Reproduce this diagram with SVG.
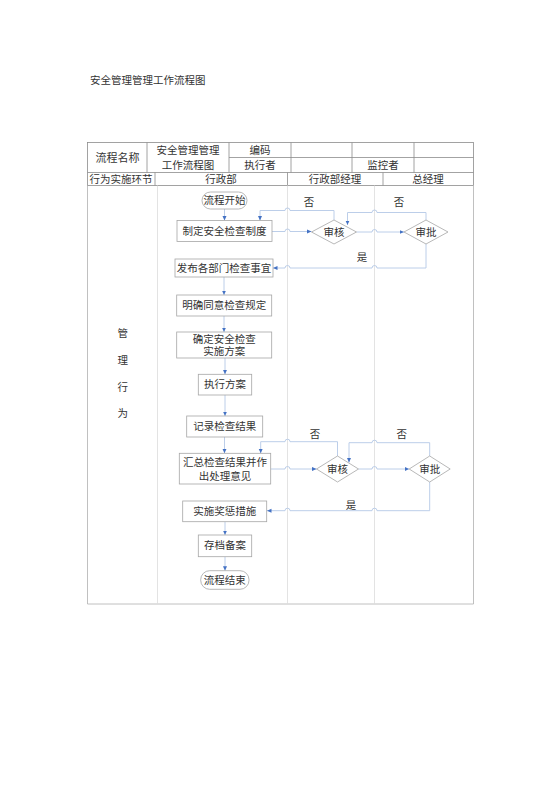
<svg xmlns="http://www.w3.org/2000/svg" width="560" height="792" viewBox="0 0 560 792">
<style>
text{font-family:"Liberation Serif","Noto Sans CJK SC",serif;font-size:10.5px;fill:#333;text-anchor:middle;dominant-baseline:central}
.tl{fill:none;stroke:#8c8c8c;stroke-width:0.8}
.ln{fill:none;stroke:#dcdcdc;stroke-width:0.8}
.bx{fill:#fff;stroke:#a6a6a6;stroke-width:0.8}
.c{fill:none;stroke:#b4c8e6;stroke-width:0.9}
.a{marker-end:url(#ah)}
</style>
<defs>
<marker id="ah" viewBox="0 0 10 10" refX="10" refY="5" markerWidth="4.5" markerHeight="4.5" orient="auto" markerUnits="userSpaceOnUse"><path d="M0,0.5 L10,5 L0,9.5 z" fill="#4472c4"/></marker>
</defs>
<rect width="560" height="792" fill="#fff"/>
<text x="90" y="80" style="text-anchor:start">安全管理管理工作流程图</text>

<g id="table">
<rect class="tl" x="87.5" y="142.5" width="386" height="43"/>
<path class="tl" d="M229,157.5 H473.5 M87.5,172.5 H473.5 M147,142.5 V172.5 M229,142.5 V172.5 M291,142.5 V172.5 M352,142.5 V172.5 M414,142.5 V172.5 M155,172.5 V185.5 M287.5,172.5 V185.5 M383,172.5 V185.5"/>
<path class="tl" style="stroke:#b0b0b0" d="M87.5,185.5 V604 H473.5 V185.5"/>
<path class="ln" d="M157.5,185.5 V604 M287.5,185.5 V604 M374.5,185.5 V604"/>
<text x="117.5" y="157.5" style="font-size:11px">流程名称</text>
<text x="188" y="150">安全管理管理</text>
<text x="188" y="165">工作流程图</text>
<text x="260" y="150">编码</text>
<text x="260" y="165">执行者</text>
<text x="383" y="165">监控者</text>
<text x="121" y="179">行为实施环节</text>
<text x="221" y="179">行政部</text>
<text x="335" y="179">行政部经理</text>
<text x="428" y="179">总经理</text>
<text x="122.7" y="333">管</text>
<text x="122.7" y="360.5">理</text>
<text x="122.7" y="387">行</text>
<text x="122.7" y="413">为</text>
</g>

<g id="connectors">
<path class="c a" d="M224.5,209 V220.5"/>
<path class="c a" d="M272,231.5 H285 A2.5,2.5 0 0 1 290,231.5 H311.5"/>
<path class="c a" d="M334,220 V210.5 H290 A2.5,2.5 0 0 0 285,210.5 H260 V220.5"/>
<path class="c a" d="M356.5,232 H372 A2.5,2.5 0 0 1 377,232 H404"/>
<path class="c a" d="M426,220 V212.5 H377 A2.5,2.5 0 0 0 372,212.5 H347.5 V225"/>
<path class="c a" d="M426,244 V268 H377 A2.5,2.5 0 0 0 372,268 H290 A2.5,2.5 0 0 0 285,268 H273"/>
<path class="c a" d="M224,277 V295"/>
<path class="c a" d="M224,316 V332"/>
<path class="c a" d="M225,358 V374.3"/>
<path class="c a" d="M225,395 V416"/>
<path class="c a" d="M224.5,437 V453.3"/>
<path class="c a" d="M270.7,469 H285 A2.5,2.5 0 0 1 290,469 H316.5"/>
<path class="c a" d="M337.5,456 V441.7 H290 A2.5,2.5 0 0 0 285,441.7 H260.7 V453.3"/>
<path class="c a" d="M358.5,469 H372 A2.5,2.5 0 0 1 377,469 H409.2"/>
<path class="c a" d="M429.7,456 V442.7 H377 A2.5,2.5 0 0 0 372,442.7 H349 V462.5"/>
<path class="c a" d="M429.7,482 V510.7 H377 A2.5,2.5 0 0 0 372,510.7 H290 A2.5,2.5 0 0 0 285,510.7 H267"/>
<path class="c a" d="M225,521.7 V535"/>
<path class="c a" d="M225,556.7 V570.7"/>
<text x="309" y="202">否</text>
<text x="399" y="202">否</text>
<text x="362" y="257">是</text>
<text x="315" y="434">否</text>
<text x="401.7" y="434">否</text>
<text x="351" y="505">是</text>
</g>

<g id="start"><rect class="bx" x="202" y="192" width="45" height="17" rx="8.5"/><text x="224.5" y="200.5">流程开始</text></g>
<g id="n1"><rect class="bx" x="177" y="220.5" width="95" height="21"/><text x="224.5" y="231">制定安全检查制度</text></g>
<g id="d1"><path class="bx" d="M311.5,232 L334,220 L356.5,232 L334,244 z"/><text x="334" y="232">审核</text></g>
<g id="d2"><path class="bx" d="M404,232 L426,220 L448,232 L426,244 z"/><text x="426" y="232">审批</text></g>
<g id="n2"><rect class="bx" x="175" y="259" width="98" height="18"/><text x="224" y="268">发布各部门检查事宜</text></g>
<g id="n3"><rect class="bx" x="176.7" y="295" width="95" height="21"/><text x="224.2" y="305.5">明确同意检查规定</text></g>
<g id="n4"><rect class="bx" x="176.7" y="332" width="95" height="26"/><text x="224.2" y="339.5">确定安全检查</text><text x="224.2" y="351.5">实施方案</text></g>
<g id="n5"><rect class="bx" x="198.3" y="374.3" width="53.4" height="20.7"/><text x="225" y="384.7">执行方案</text></g>
<g id="n6"><rect class="bx" x="186.7" y="416" width="76" height="21"/><text x="224.7" y="426.5">记录检查结果</text></g>
<g id="n7"><rect class="bx" x="179.3" y="453.3" width="91.4" height="30.7"/><text x="225" y="462.5">汇总检查结果并作</text><text x="225" y="476">出处理意见</text></g>
<g id="d3"><path class="bx" d="M316.5,469 L337.5,456 L358.5,469 L337.5,482 z"/><text x="337.5" y="469">审核</text></g>
<g id="d4"><path class="bx" d="M409.2,469 L429.7,456 L450.2,469 L429.7,482 z"/><text x="429.7" y="469">审批</text></g>
<g id="n8"><rect class="bx" x="182.7" y="501" width="84" height="20.7"/><text x="224.7" y="511.3">实施奖惩措施</text></g>
<g id="n9"><rect class="bx" x="198.3" y="535" width="53.4" height="21.7"/><text x="225" y="545.8">存档备案</text></g>
<g id="end"><rect class="bx" x="200.7" y="570.7" width="48.3" height="18.6" rx="9"/><text x="224.8" y="580">流程结束</text></g>
</svg>
